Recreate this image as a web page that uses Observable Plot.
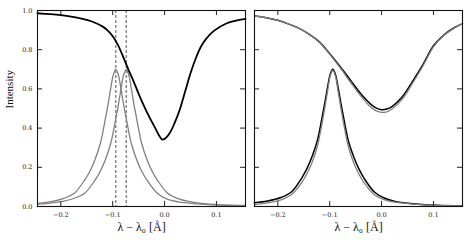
<!DOCTYPE html>
<html>
<head>
<meta charset="utf-8">
<script src="https://cdn.jsdelivr.net/npm/d3@7"></script>
<script src="https://cdn.jsdelivr.net/npm/@observablehq/plot@0.6"></script>
<style>
  html, body { margin: 0; padding: 0; background: #fff; }
  #wrap { display: flex; flex-direction: row; width: 471px; height: 240px; }
</style>
</head>
<body>
<div id="wrap"></div>
<script>
// ---- data ----
const xTicks = [-0.2, -0.1, 0.0, 0.1];
const xTickLabels = ["−0.2", "−0.1", "0.0", "0.1"];
const yTicks = [0.0, 0.2, 0.4, 0.6, 0.8, 1.0];
const yTickLabels = ["0.0", "0.2", "0.4", "0.6", "0.8", "1.0"];
const xLabel = "λ − λ₀ [Å]";
const yLabel = "Intensity";
const dashedWl = [-0.094, -0.074];

// left panel: absorption profile (black)
const leftAbsWl = [-0.245,-0.22,-0.2,-0.18,-0.16,-0.14,-0.12,-0.11,-0.10,-0.09,-0.08,-0.07,-0.06,-0.05,-0.04,-0.03,-0.02,-0.01,-0.005,0.0,0.01,0.02,0.03,0.04,0.05,0.06,0.07,0.08,0.095,0.12,0.14,0.156];
const leftAbsI  = [0.986,0.981,0.976,0.969,0.959,0.944,0.919,0.899,0.869,0.825,0.765,0.70,0.64,0.575,0.515,0.46,0.41,0.36,0.342,0.345,0.375,0.43,0.50,0.59,0.68,0.755,0.815,0.855,0.896,0.935,0.95,0.957];

// left panel: emission profile 1 (gray, centred at -0.094)
const leftEm1Wl = [-0.245,-0.22,-0.194,-0.174,-0.154,-0.144,-0.134,-0.124,-0.119,-0.114,-0.109,-0.104,-0.099,-0.094,-0.089,-0.084,-0.079,-0.074,-0.069,-0.064,-0.054,-0.044,-0.034,-0.014,0.006,0.026,0.056,0.106,0.156];
const leftEm1I  = [0.016,0.025,0.042,0.068,0.135,0.18,0.24,0.32,0.38,0.45,0.52,0.60,0.67,0.70,0.67,0.60,0.52,0.45,0.38,0.32,0.24,0.18,0.135,0.068,0.036,0.024,0.015,0.007,0.004];

// left panel: emission profile 2 (gray, centred at -0.074)
const leftEm2Wl = [-0.245,-0.224,-0.194,-0.174,-0.154,-0.134,-0.124,-0.114,-0.104,-0.099,-0.094,-0.089,-0.084,-0.079,-0.074,-0.069,-0.064,-0.059,-0.054,-0.049,-0.044,-0.034,-0.024,-0.014,0.006,0.026,0.046,0.076,0.126,0.156];
const leftEm2I  = [0.012,0.016,0.027,0.042,0.068,0.135,0.18,0.24,0.32,0.38,0.45,0.52,0.60,0.67,0.70,0.67,0.60,0.52,0.45,0.38,0.32,0.24,0.18,0.135,0.068,0.040,0.026,0.015,0.007,0.005];

// right panel: absorption profiles (black and gray)
const rightAbsWl     = [-0.245,-0.22,-0.2,-0.18,-0.16,-0.14,-0.12,-0.10,-0.08,-0.06,-0.04,-0.02,-0.01,0.0,0.01,0.02,0.04,0.06,0.08,0.10,0.12,0.14,0.156];
const rightAbsBlackI = [0.972,0.962,0.95,0.932,0.91,0.88,0.84,0.78,0.715,0.645,0.575,0.52,0.502,0.494,0.497,0.51,0.56,0.64,0.725,0.82,0.875,0.912,0.933];
const rightAbsGrayI  = [0.972,0.962,0.95,0.932,0.91,0.879,0.838,0.776,0.708,0.634,0.563,0.505,0.488,0.480,0.483,0.497,0.548,0.630,0.718,0.815,0.873,0.911,0.933];

// right panel: emission profiles (black and gray, centred at -0.094)
const rightEmWl     = [-0.245,-0.22,-0.194,-0.174,-0.154,-0.144,-0.134,-0.124,-0.119,-0.114,-0.109,-0.104,-0.099,-0.094,-0.089,-0.084,-0.079,-0.074,-0.069,-0.064,-0.054,-0.044,-0.034,-0.014,0.006,0.026,0.056,0.106,0.156];
const rightEmBlackI = [0.019,0.028,0.046,0.074,0.145,0.193,0.255,0.335,0.395,0.465,0.535,0.61,0.675,0.70,0.675,0.61,0.535,0.465,0.395,0.335,0.255,0.193,0.145,0.074,0.042,0.026,0.015,0.006,0.003];
const rightEmGrayI  = [0.010,0.018,0.034,0.060,0.122,0.167,0.225,0.305,0.365,0.435,0.51,0.59,0.665,0.695,0.665,0.59,0.51,0.435,0.365,0.305,0.225,0.167,0.122,0.060,0.034,0.022,0.013,0.005,0.003];

// ---- helpers ----
const pts = (xs, ys) => xs.map((x, i) => ({x, y: ys[i]}));
const BLACK = "#000";
const GRAY = "#808080";
const tickFont = "DejaVu Serif";
const labelFont = "Liberation Serif, DejaVu Serif, serif";

function panel({width, marginLeft, marginRight, showY, lines}) {
  const marginTop = 10, marginBottom = 34, height = 240;
  const fw = width - marginLeft - marginRight;
  const fh = height - marginTop - marginBottom;
  const T = 5;
  const marks = [
    ...lines,
    // inward ticks on all four sides
    Plot.tickX(xTicks, {x: d => d, insetTop: fh - T, stroke: "#222"}),
    Plot.tickX(xTicks, {x: d => d, insetBottom: fh - T, stroke: "#222"}),
    Plot.tickY(yTicks, {y: d => d, insetRight: fw - T, stroke: "#222"}),
    Plot.tickY(yTicks, {y: d => d, insetLeft: fw - T, stroke: "#222"}),
    Plot.axisX(xTicks, {anchor: "bottom", tickSize: 0, tickPadding: 6, label: null,
      tickFormat: d => xTickLabels[xTicks.indexOf(d)], fontSize: 6.5, fontFamily: tickFont, fill: "#222"}),
    Plot.text([xLabel], {frameAnchor: "bottom", dy: 24, text: d => d, fontSize: 12, fontFamily: labelFont, fill: "#111"}),
    Plot.frame({stroke: "#111", strokeWidth: 1.1})
  ];
  if (showY) {
    marks.push(Plot.axisY(yTicks, {anchor: "left", tickSize: 0, tickPadding: 5, label: null,
      tickFormat: d => yTickLabels[yTicks.indexOf(d)], fontSize: 6.5, fontFamily: tickFont, fill: "#222"}));
    marks.push(Plot.text([yLabel], {frameAnchor: "left", dx: -28, rotate: -90, text: d => d, fontSize: 11, fontFamily: labelFont, fill: "#111"}));
  }
  return Plot.plot({
    width, height, marginLeft, marginRight, marginTop, marginBottom,
    x: {domain: [-0.245, 0.156], label: null},
    y: showY ? {domain: [0, 1], label: null} : {domain: [0, 1], label: null, axis: null},
    style: {background: "#fff", overflow: "visible"},
    marks
  });
}

const left = panel({
  width: 250, marginLeft: 37, marginRight: 5, showY: true,
  lines: [
    Plot.ruleX(dashedWl, {x: d => d, stroke: "#555", strokeWidth: 1, strokeDasharray: "3,2"}),
    Plot.line(pts(leftEm1Wl, leftEm1I), {x: "x", y: "y", stroke: GRAY, strokeWidth: 1.3, curve: "catmull-rom"}),
    Plot.line(pts(leftEm2Wl, leftEm2I), {x: "x", y: "y", stroke: GRAY, strokeWidth: 1.3, curve: "catmull-rom"}),
    Plot.line(pts(leftAbsWl, leftAbsI), {x: "x", y: "y", stroke: BLACK, strokeWidth: 1.8, curve: "catmull-rom"})
  ]
});

const right = panel({
  width: 221, marginLeft: 4, marginRight: 9, showY: false,
  lines: [
    Plot.line(pts(rightAbsWl, rightAbsBlackI), {x: "x", y: "y", stroke: BLACK, strokeWidth: 1.5, curve: "catmull-rom"}),
    Plot.line(pts(rightEmWl, rightEmBlackI), {x: "x", y: "y", stroke: BLACK, strokeWidth: 1.5, curve: "catmull-rom"}),
    Plot.line(pts(rightAbsWl, rightAbsGrayI), {x: "x", y: "y", stroke: GRAY, strokeWidth: 1.3, curve: "catmull-rom"}),
    Plot.line(pts(rightEmWl, rightEmGrayI), {x: "x", y: "y", stroke: GRAY, strokeWidth: 1.3, curve: "catmull-rom"})
  ]
});

document.getElementById("wrap").append(left, right);
</script>
</body>
</html>
